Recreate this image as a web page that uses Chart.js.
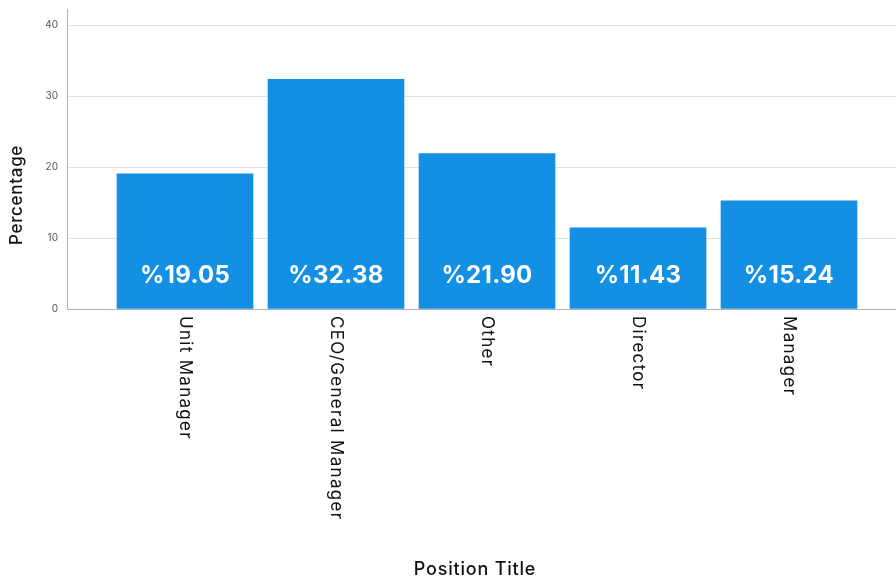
<!DOCTYPE html>
<html>
<head>
<meta charset="utf-8">
<script src="https://cdn.jsdelivr.net/npm/chart.js@4/dist/chart.umd.min.js"></script>
<style>
  html, body { margin: 0; padding: 0; background: #fff; }
  #wrap { width: 896px; height: 582px; }
</style>
</head>
<body>
<div id="wrap"><canvas id="c" width="896" height="582"></canvas></div>
<script>
// Share of respondents by position title
const categories = ['Unit Manager', 'CEO/General Manager', 'Other', 'Director', 'Manager'];
const percentages = [19.05, 32.38, 21.90, 11.43, 15.24];
const yTicks = [0, 10, 20, 30, 40];

const barColor = '#138fe4';
const fontFamily = 'Inter, "Open Sans", sans-serif';

// Category labels (reading top-to-bottom), value badges inside bars, axis titles
const labelPlugin = {
  id: 'barLabels',
  afterDraw(chart) {
    const ctx = chart.ctx;
    const xs = chart.scales.x;
    const ys = chart.scales.y;
    const meta = chart.getDatasetMeta(0);
    ctx.save();
    // value labels inside bars
    ctx.fillStyle = '#ffffff';
    ctx.font = '700 24px ' + fontFamily;
    ctx.letterSpacing = '0.3px';
    ctx.textAlign = 'center';
    ctx.textBaseline = 'middle';
    meta.data.forEach((bar, i) => {
      ctx.fillText('%' + percentages[i].toFixed(2), bar.x, ys.bottom - 33);
    });
    // rotated category labels under the axis
    ctx.fillStyle = '#111111';
    ctx.font = '400 17px ' + fontFamily;
    ctx.letterSpacing = '1.3px';
    ctx.textAlign = 'left';
    ctx.textBaseline = 'middle';
    categories.forEach((name, i) => {
      const px = xs.getPixelForValue(i);
      ctx.save();
      ctx.translate(px, ys.bottom + 7);
      ctx.rotate(Math.PI / 2);
      ctx.fillText(name, 0, 0);
      ctx.restore();
    });
    // axis titles
    ctx.font = '500 18px ' + fontFamily;
    ctx.letterSpacing = '0.8px';
    ctx.textAlign = 'center';
    ctx.fillText('Position Title', 475, 570);
    ctx.save();
    ctx.translate(17, 195);
    ctx.rotate(-Math.PI / 2);
    ctx.font = '500 17px ' + fontFamily;
    ctx.letterSpacing = '0.7px';
    ctx.fillText('Percentage', 0, 0);
    ctx.restore();
    ctx.restore();
  }
};

new Chart(document.getElementById('c'), {
  type: 'bar',
  data: {
    datasets: [{
      data: percentages.map((v, i) => ({ x: i, y: v })),
      backgroundColor: barColor,
      borderWidth: 0,
      barThickness: 136
    }]
  },
  options: {
    responsive: false,
    animation: false,
    events: [],
    layout: { padding: { top: 9, right: 0, left: 0, bottom: 0 } },
    plugins: { legend: { display: false }, tooltip: { enabled: false } },
    scales: {
      x: {
        type: 'linear',
        offset: false,
        min: -0.7815,
        max: 4.7086,
        afterBuildTicks: (scale) => { scale.ticks = categories.map((_, i) => ({ value: i })); },
        afterFit: (scale) => { scale.height = 273; scale.paddingLeft = 0; scale.paddingRight = 0; },
        grid: { display: false, offset: false },
        border: { display: true, color: '#b4b4b4', width: 1 },
        ticks: { display: false }
      },
      y: {
        min: 0,
        max: 42.3,
        afterBuildTicks: (scale) => { scale.ticks = yTicks.map(v => ({ value: v })); },
        afterFit: (scale) => { scale.width = 67; scale.paddingTop = 0; scale.paddingBottom = 0; },
        grid: { color: '#e2e2e2', drawTicks: false, lineWidth: 1 },
        border: { display: true, color: '#b4b4b4', width: 1 },
        ticks: {
          color: '#555',
          padding: 9,
          font: { family: fontFamily, size: 10 }
        }
      }
    }
  },
  plugins: [labelPlugin]
});
</script>
</body>
</html>
